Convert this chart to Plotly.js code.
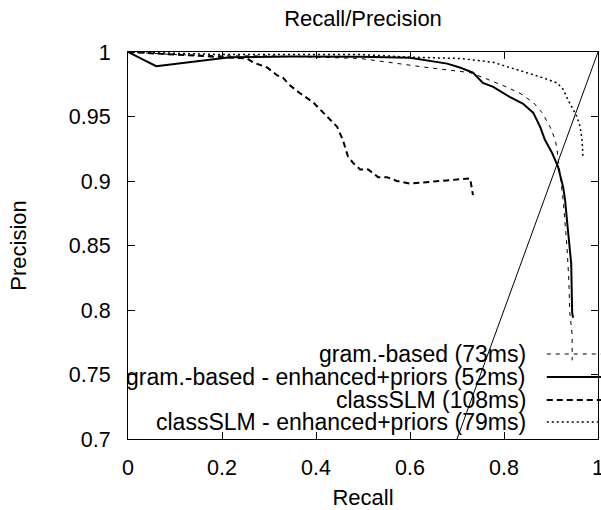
<!DOCTYPE html>
<html>
<head>
<meta charset="utf-8">
<script src="https://cdn.plot.ly/plotly-3.0.1.min.js"></script>
<style>html,body{margin:0;padding:0;background:#fff;}#chart{width:601px;height:510px;}</style>
</head>
<body>
<div id="chart"></div>
<script>
// gram.-based (73ms)
const gramRecall = [0, 0.1, 0.2, 0.3, 0.4, 0.494, 0.636, 0.728, 0.764, 0.798, 0.834, 0.862, 0.881, 0.898, 0.909, 0.913, 0.926, 0.934, 0.938, 0.940, 0.945, 0.945];
const gramPrecision = [1, 0.998, 0.997, 0.997, 0.996, 0.995, 0.988, 0.984, 0.979, 0.974, 0.968, 0.961, 0.953, 0.942, 0.932, 0.924, 0.885, 0.849, 0.823, 0.798, 0.781, 0.761];
// gram.-based - enhanced+priors (52ms)
const gramEnhRecall = [0, 0.06, 0.217, 0.35, 0.494, 0.6, 0.679, 0.706, 0.734, 0.755, 0.777, 0.813, 0.840, 0.862, 0.877, 0.887, 0.902, 0.915, 0.926, 0.930, 0.936, 0.943, 0.945, 0.947];
const gramEnhPrecision = [1, 0.989, 0.996, 0.9965, 0.9964, 0.9955, 0.991, 0.988, 0.984, 0.976, 0.973, 0.965, 0.960, 0.953, 0.942, 0.932, 0.922, 0.911, 0.895, 0.885, 0.862, 0.836, 0.798, 0.794];
// classSLM (108ms)
const slmRecall = [0, 0.1, 0.2, 0.217, 0.253, 0.266, 0.296, 0.317, 0.330, 0.345, 0.366, 0.394, 0.415, 0.445, 0.457, 0.468, 0.479, 0.494, 0.511, 0.532, 0.551, 0.572, 0.600, 0.628, 0.657, 0.685, 0.713, 0.728, 0.734];
const slmPrecision = [1, 0.998, 0.996, 0.996, 0.995, 0.992, 0.988, 0.982, 0.980, 0.974, 0.968, 0.961, 0.953, 0.942, 0.932, 0.919, 0.914, 0.909, 0.909, 0.903, 0.903, 0.900, 0.898, 0.899, 0.900, 0.901, 0.902, 0.902, 0.889];
// classSLM - enhanced+priors (79ms)
const slmEnhRecall = [0, 0.1, 0.2, 0.3, 0.4, 0.494, 0.6, 0.706, 0.777, 0.813, 0.849, 0.883, 0.913, 0.926, 0.936, 0.947, 0.955, 0.962, 0.966, 0.968];
const slmEnhPrecision = [1, 0.999, 0.998, 0.998, 0.998, 0.998, 0.996, 0.995, 0.992, 0.988, 0.984, 0.980, 0.976, 0.971, 0.963, 0.955, 0.950, 0.942, 0.932, 0.919];
// break-even diagonal (recall = precision)
const diagRecall = [0, 1];
const diagPrecision = [0, 1];

const seriesNames = ["gram.-based (73ms)", "gram.-based - enhanced+priors (52ms)", "classSLM (108ms)", "classSLM - enhanced+priors (79ms)"];
const xTickVals = [0, 0.2, 0.4, 0.6, 0.8, 1];
const xTickText = ["0", "0.2", "0.4", "0.6", "0.8", "1"];
const yTickVals = [0.7, 0.75, 0.8, 0.85, 0.9, 0.95, 1];
const yTickText = ["0.7", "0.75", "0.8", "0.85", "0.9", "0.95", "1"];

const FONT = "Liberation Sans, Arial, Helvetica, sans-serif";
const styles = [
  {width: 1, dash: "4px,5px"},
  {width: 2, dash: "solid"},
  {width: 2, dash: "6px,4px"},
  {width: 1.5, dash: "2px,3px"}
];
const xs = [gramRecall, gramEnhRecall, slmRecall, slmEnhRecall];
const ys = [gramPrecision, gramEnhPrecision, slmPrecision, slmEnhPrecision];

const traces = xs.map((x, i) => ({
  x: x, y: ys[i], mode: "lines", name: seriesNames[i], showlegend: false,
  line: {color: "#000", width: styles[i].width, dash: styles[i].dash}
}));
traces.push({x: diagRecall, y: diagPrecision, mode: "lines", showlegend: false,
  line: {color: "#000", width: 1}});

// manual gnuplot-style legend: text right-aligned, sample on the right
const rowY = [0.7659, 0.748, 0.7302, 0.7132];
const annotations = seriesNames.map((t, i) => ({
  text: t, xref: "paper", yref: "y", x: 0.851, y: rowY[i],
  xanchor: "right", yanchor: "middle", showarrow: false,
  font: {family: FONT, size: 23, color: "#000"}
}));
const shapes = seriesNames.map((t, i) => ({
  type: "line", xref: "paper", yref: "y", x0: 0.891, x1: 1.007, y0: rowY[i], y1: rowY[i],
  line: {color: "#000", width: styles[i].width, dash: styles[i].dash}
}));

const axisCommon = {
  showgrid: false, zeroline: false, showline: true, linecolor: "#000", linewidth: 1,
  mirror: "ticks", ticks: "inside", ticklen: 7, tickcolor: "#000", tickwidth: 1,
  tickfont: {family: FONT, size: 21.5, color: "#000"}, automargin: false,
  ticklabeloverflow: "allow"
};

const layout = {
  width: 601, height: 510,
  margin: {l: 128, r: 3, t: 52, b: 71},
  paper_bgcolor: "#fff", plot_bgcolor: "#fff",
  font: {family: FONT, color: "#000"},
  title: {text: "Recall/Precision", font: {family: FONT, size: 22, color: "#000"},
    xref: "paper", x: 0.5, xanchor: "center", yref: "container", y: 0.965, yanchor: "middle"},
  xaxis: Object.assign({}, axisCommon, {
    range: [0, 1], tickvals: xTickVals, ticktext: xTickText, ticklabelstandoff: 9,
    title: {text: "Recall", font: {family: FONT, size: 22, color: "#000"}, standoff: 12}
  }),
  yaxis: Object.assign({}, axisCommon, {
    range: [0.7, 1], tickvals: yTickVals, ticktext: yTickText, ticklabelstandoff: 12,
    title: {text: "Precision", font: {family: FONT, size: 22, color: "#000"}, standoff: 36}
  }),
  annotations: annotations,
  shapes: shapes
};

Plotly.newPlot("chart", traces, layout, {staticPlot: true, displayModeBar: false});
</script>
</body>
</html>
